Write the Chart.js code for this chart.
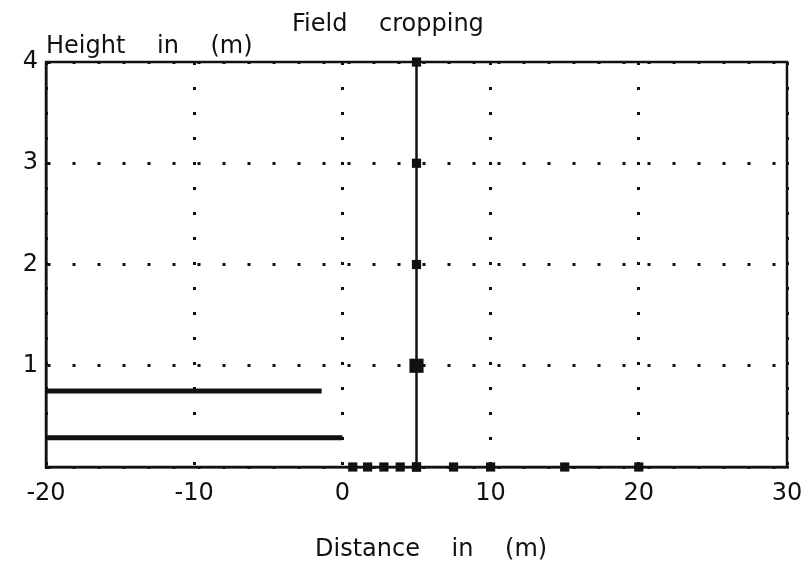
<!DOCTYPE html>
<html>
<head>
<meta charset="utf-8">
<script src="https://cdn.jsdelivr.net/npm/chart.js@4.4.1/dist/chart.umd.min.js"></script>
<style>
  html, body { margin: 0; padding: 0; background: #fff; }
  #wrap { width: 808px; height: 569px; }
</style>
</head>
<body>
<div id="wrap"><canvas id="cropChart" width="808" height="569"></canvas></div>
<script>
// axis ticks
const xTicks = [-20, -10, 0, 10, 20, 30];
const yTicks = [0, 1, 2, 3, 4];

// crop rows on the left (height in m, from/to distance in m)
const upperRowX = [-20, -1.4];
const upperRowY = [0.75, 0.75];
const lowerRowX = [-20, 0];
const lowerRowY = [0.29, 0.29];

// pole at 5 m, with its marks
const poleX = [5, 5, 5, 5, 5];
const poleY = [0, 1, 2, 3, 4];

// sampling points along the ground
const groundX = [0.7, 1.7, 2.8, 3.9, 5, 7.5, 10, 15, 20];
const groundY = [0, 0, 0, 0, 0, 0, 0, 0, 0];

const FONT = 'DejaVu Sans';

function toPoints(xs, ys) {
    return xs.map((x, i) => ({x: x, y: ys[i]}));
}

// texts and the frame round the plot area
const framePlugin = {
    id: 'frame',
    afterDraw(chart) {
        const {ctx, chartArea: a} = chart;
        ctx.save();
        ctx.strokeStyle = '#111';
        ctx.lineWidth = 2.5;
        ctx.strokeRect(a.left, a.top, a.right - a.left, a.bottom - a.top);

        ctx.fillStyle = '#111';
        ctx.font = '24px "' + FONT + '"';
        ctx.textBaseline = 'alphabetic';
        ctx.textAlign = 'left';
        ctx.wordSpacing = '24px';
        ctx.fillText('Field cropping', 292, 31);
        ctx.fillText('Height in (m)', 46, 53);
        ctx.fillText('Distance in (m)', 315, 556);
        ctx.restore();
    }
};

const ctx = document.getElementById('cropChart').getContext('2d');
new Chart(ctx, {
    type: 'scatter',
    data: {
        datasets: [
            {
                data: toPoints(upperRowX, upperRowY),
                showLine: true,
                borderColor: '#111',
                borderWidth: 5,
                pointRadius: 0
            },
            {
                data: toPoints(lowerRowX, lowerRowY),
                showLine: true,
                borderColor: '#111',
                borderWidth: 5,
                pointRadius: 0
            },
            {
                data: toPoints(poleX, poleY),
                showLine: true,
                clip: false,
                borderColor: '#111',
                backgroundColor: '#111',
                borderWidth: 2.5,
                pointStyle: 'rect',
                pointRadius: [6.5, 10, 6.5, 6.5, 6.5],
                pointBorderWidth: 0
            },
            {
                data: toPoints(groundX, groundY),
                showLine: false,
                clip: false,
                backgroundColor: '#111',
                borderColor: '#111',
                pointStyle: 'rect',
                pointRadius: 6.5,
                pointBorderWidth: 0
            }
        ]
    },
    options: {
        responsive: false,
        animation: false,
        layout: {padding: {left: 0, top: 62, right: 21, bottom: 0}},
        plugins: {
            legend: {display: false},
            title: {display: false},
            tooltip: {enabled: false}
        },
        scales: {
            x: {
                type: 'linear',
                min: xTicks[0],
                max: xTicks[xTicks.length - 1],
                afterFit: s => {
                    s.height = 102;
                    s.paddingLeft = 0;
                    s.paddingRight = 0;
                },
                afterBuildTicks: s => { s.ticks = xTicks.map(v => ({value: v})); },
                ticks: {
                    color: '#111',
                    font: {family: FONT, size: 24},
                    padding: 12,
                    maxRotation: 0
                },
                grid: {
                    color: '#111',
                    lineWidth: 3,
                    drawTicks: false
                },
                border: {display: true, color: '#111', width: 2.5, dash: [3, 22]}
            },
            y: {
                type: 'linear',
                min: yTicks[0],
                max: yTicks[yTicks.length - 1],
                afterFit: s => {
                    s.width = 46;
                    s.paddingTop = 0;
                    s.paddingBottom = 0;
                },
                afterBuildTicks: s => { s.ticks = yTicks.map(v => ({value: v})); },
                ticks: {
                    color: '#111',
                    font: {family: FONT, size: 24},
                    padding: 8,
                    callback: v => (v === 0 ? '' : v)
                },
                grid: {
                    color: '#111',
                    lineWidth: 3,
                    drawTicks: false
                },
                border: {display: true, color: '#111', width: 2.5, dash: [3, 22]}
            }
        }
    },
    plugins: [framePlugin]
});
</script>
</body>
</html>
